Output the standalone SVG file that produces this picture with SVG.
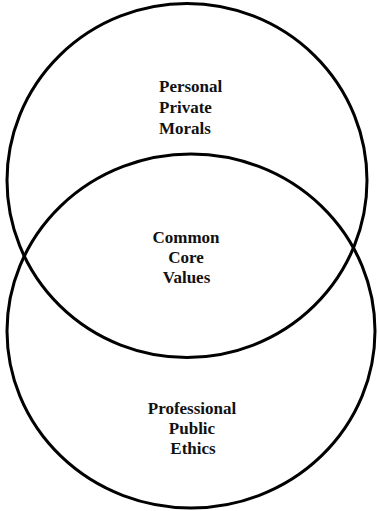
<svg xmlns="http://www.w3.org/2000/svg" width="378" height="511" viewBox="0 0 378 511">
<style>
.c{fill:none;stroke:#000;stroke-width:3}
.t{font-family:"Liberation Serif","Times New Roman",serif;font-weight:bold;font-size:17px;fill:#111}
.m{text-anchor:middle}
</style>
<rect width="378" height="511" fill="#fff"/>
<g id="personal">
<ellipse class="c" cx="187" cy="180.5" rx="180" ry="177"/>
<text class="t" x="159" y="92">Personal</text>
<text class="t" x="159" y="113">Private</text>
<text class="t" x="159" y="134">Morals</text>
</g>
<g id="professional">
<ellipse class="c" cx="191" cy="331" rx="184" ry="177"/>
<text class="t m" x="192" y="414">Professional</text>
<text class="t m" x="192" y="434">Public</text>
<text class="t m" x="193" y="454">Ethics</text>
</g>
<g id="common">
<text class="t m" x="186" y="243">Common</text>
<text class="t m" x="186" y="263">Core</text>
<text class="t m" x="186.5" y="283">Values</text>
</g>
<g id="connectors"/>
</svg>
